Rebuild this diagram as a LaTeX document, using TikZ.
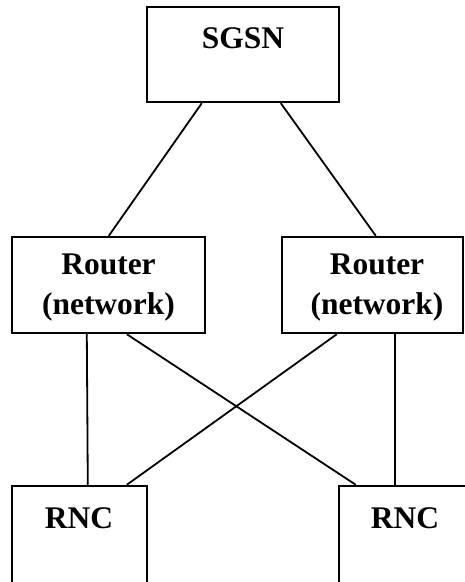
\documentclass[tikz,border=0pt]{standalone}
\usepackage{fontspec}
\setmainfont{Liberation Serif}
\usetikzlibrary{calc}
\begin{document}
\begin{tikzpicture}[x=1pt,y=-1pt,
  box/.style={draw=black,line width=2.4pt,rectangle,inner sep=0pt,fill=none},
  lbl/.style={font=\fontsize{31.5}{40}\selectfont\bfseries,align=center,inner sep=0pt},
  link/.style={draw=black,line width=1.8pt}]
\useasboundingbox (0,0) rectangle (465,582);
\clip (0,0) rectangle (465,582);
\node[box,minimum width=192pt,minimum height=95pt] (sgsn) at (243,54.5) {};
\node[box,minimum width=193pt,minimum height=96pt] (rl) at (108.5,285) {};
\node[box,minimum width=181pt,minimum height=96pt] (rr) at (372.5,285) {};
\node[box,minimum width=135pt,minimum height=134pt] (nl) at (79.5,553) {};
\node[box,minimum width=141pt,minimum height=134pt] (nr) at (409.5,553) {};
\node[lbl] (tsgsn) at (243,38) {SGSN};
\node[lbl] (trl) at (108.5,288) {Router\\(network)};
\node[lbl] (trr) at (377,288) {Router\\(network)};
\node[lbl] (tnl) at (79,518) {RNC};
\node[lbl] (tnr) at (405,518) {RNC};
\draw[link] ($(sgsn.south west)+(56,0)$) -- ($(rl.north west)+(98,0)$);
\draw[link] ($(sgsn.south west)+(135,0)$) -- ($(rr.north west)+(95,0)$);
\draw[link] ($(rl.south west)+(76,0)$) -- ($(nl.north west)+(77,0)$);
\draw[link] ($(rl.south west)+(116,0)$) -- ($(nr.north west)+(18,0)$);
\draw[link] ($(rr.south west)+(56,0)$) -- ($(nl.north west)+(116,0)$);
\draw[link] ($(rr.south west)+(114,0)$) -- ($(nr.north west)+(57,0)$);
\end{tikzpicture}
\end{document}
